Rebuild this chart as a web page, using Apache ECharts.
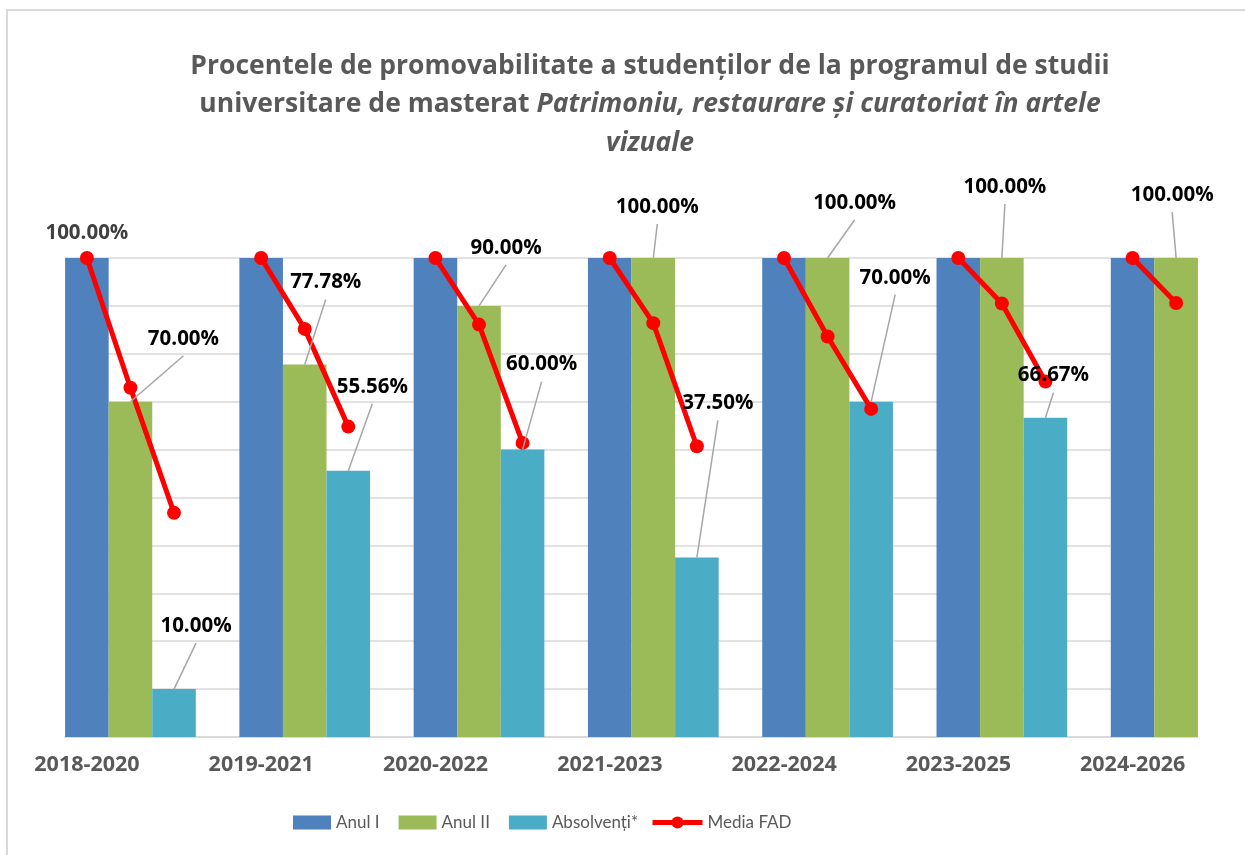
<!DOCTYPE html>
<html>
<head>
<meta charset="utf-8">
<title>Procentele de promovabilitate</title>
<script src="https://cdn.jsdelivr.net/npm/echarts@6/dist/echarts.min.js"></script>
<style>
  html, body { margin: 0; padding: 0; background: #fff; }
  #chart { width: 1245px; height: 855px; }
</style>
</head>
<body>
<div id="chart"></div>
<script>
  // categories (promotion cohorts)
  var categories = ["2018-2020", "2019-2021", "2020-2022", "2021-2023", "2022-2024", "2023-2025", "2024-2026"];

  // bar values (share of students)
  var anulI = [1, 1, 1, 1, 1, 1, 1];
  var anulII = [0.70, 0.7778, 0.90, 1, 1, 1, 1];
  var absolventi = [0.10, 0.5556, 0.60, 0.375, 0.70, 0.6667, "-"];

  // Media FAD, read at Anul I / Anul II / Absolventi in every group
  var fadAnulI = [1, 1, 1, 1, 1, 1, 1];
  var fadAnulII = [0.729, 0.852, 0.861, 0.864, 0.836, 0.905, 0.906];
  var fadAbsolventi = [0.468, 0.648, 0.614, 0.607, 0.685, 0.742, "-"];

  // y axis ticks
  var yMin = 0, yMax = 1, yStep = 0.1;

  // label placement, [dx, dy] from the top of the bar (layout only)
  var offAnulI = [[0, -25], null, null, null, null, null, null];
  var offAnulII = [[53, -63], [21, -82], [27, -58], [4, -51], [27, -55], [3, -71], [-4, -63]];
  var offAbs = [[22, -63], [24, -84], [19, -85], [21, -154], [24, -124], [8, -42], null];

  // line goes on a helper axis with 4 slots per group (slot 0 empty)
  var slotNames = [];
  var fadSlots = [];
  for (var i = 0; i < categories.length; i++) {
    fadSlots.push("-", fadAnulI[i], fadAnulII[i], fadAbsolventi[i]);
  }
  fadSlots.push("-");
  for (var k = 0; k < fadSlots.length; k++) slotNames.push(String(k));

  var FONT = "'Open Sans', Lato, sans-serif";
  var LEGEND_FONT = "Lato, sans-serif";
  var GRAY = "#595959";

  function pct(v) {
    return (v * 100).toFixed(2) + "%";
  }

  // data labels with grey leader lines
  function labelSeries(values, slot, offsets, color, guide) {
    return {
      type: "custom",
      name: "lbl" + slot,
      xAxisIndex: 1,
      yAxisIndex: 1,
      z: 10,
      silent: true,
      data: values.map(function (v, i) { return [i, v]; }),
      renderItem: function (params, api) {
        var off = offsets[params.dataIndex];
        var v = api.value(1);
        if (!off || isNaN(v)) return null;
        var band = api.size([1, 0])[0];
        var c = api.coord([api.value(0), v]);
        var x = c[0] + slot * band * 0.25;
        var y = c[1];
        var lx = x + off[0], ly = y + off[1];
        var children = [];
        if (guide) {
          children.push({
            type: "line",
            shape: { x1: lx, y1: ly + 17, x2: x, y2: y },
            style: { stroke: "#a6a6a6", lineWidth: 1.5 }
          });
        }
        children.push({
          type: "text",
          x: lx,
          y: ly,
          style: {
            text: pct(v),
            align: "center",
            verticalAlign: "middle",
            fill: color,
            font: "bold 20.5px " + FONT
          }
        });
        return { type: "group", children: children };
      }
    };
  }

  var chart = echarts.init(document.getElementById("chart"));

  var option = {
    backgroundColor: "#fff",
    animation: false,
    title: {
      text: "Procentele de promovabilitate a studenților de la programul de studii\n" +
        "universitare de masterat {i|Patrimoniu, restaurare și curatoriat în artele}\n{i|vizuale}",
      left: 650,
      textAlign: "center",
      top: 47,
      padding: 0,
      textStyle: {
        color: GRAY,
        fontFamily: FONT,
        fontSize: 26.5,
        fontWeight: "bold",
        lineHeight: 38.5,
        rich: {
          i: { color: GRAY, fontFamily: FONT, fontSize: 26.5, fontWeight: "bold", fontStyle: "italic", lineHeight: 38.5 }
        }
      }
    },
    legend: [
      {
        data: ["Anul I", "Anul II", "Absolvenți*"],
        left: 293,
        top: 814,
        padding: 0,
        icon: "rect",
        itemWidth: 38,
        itemHeight: 14,
        itemGap: 19,
        textStyle: { color: GRAY, fontFamily: LEGEND_FONT, fontSize: 17 }
      },
      {
        data: ["Media FAD"],
        left: 650,
        top: 814,
        padding: 0,
        itemWidth: 50,
        itemHeight: 15,
        lineStyle: { width: 5, color: "#FF0000" },
        textStyle: { color: GRAY, fontFamily: LEGEND_FONT, fontSize: 17 }
      }
    ],
    grid: [
      // gridlines only
      { left: 65, width: 1132, top: 258, height: 479, containLabel: false, outerBoundsMode: "none" },
      // bars, line and labels
      { left: 43.3, width: 1220, top: 258, height: 479, containLabel: false, outerBoundsMode: "none" }
    ],
    xAxis: [
      {
        type: "value", gridIndex: 0, min: 0, max: 1,
        axisLine: { show: true, lineStyle: { color: "#d9d9d9", width: 2 } },
        axisTick: { show: false }, axisLabel: { show: false }, splitLine: { show: false }
      },
      {
        type: "category", gridIndex: 1, data: categories,
        axisLine: { show: false }, axisTick: { show: false }, splitLine: { show: false },
        axisLabel: {
          interval: 0,
          margin: 17,
          color: GRAY,
          fontFamily: FONT,
          fontSize: 21.5,
          fontWeight: "bold",
          padding: [0, 87, 0, 0]
        }
      },
      {
        type: "category", gridIndex: 1, data: slotNames, boundaryGap: false, show: false
      }
    ],
    yAxis: [
      {
        type: "value", gridIndex: 0, min: yMin, max: yMax, interval: yStep,
        axisLine: { show: false }, axisTick: { show: false }, axisLabel: { show: false },
        splitLine: { show: true, lineStyle: { color: "#d9d9d9", width: 1.5 } }
      },
      {
        type: "value", gridIndex: 1, min: yMin, max: yMax, show: false, splitLine: { show: false }
      }
    ],
    series: [
      {
        name: "Anul I", type: "bar", xAxisIndex: 1, yAxisIndex: 1,
        data: anulI, barGap: "0%", barCategoryGap: "25%",
        itemStyle: { color: "#4F81BD" }
      },
      {
        name: "Anul II", type: "bar", xAxisIndex: 1, yAxisIndex: 1,
        data: anulII, barGap: "0%", barCategoryGap: "25%",
        itemStyle: { color: "#9BBB59" }
      },
      {
        name: "Absolvenți*", type: "bar", xAxisIndex: 1, yAxisIndex: 1,
        data: absolventi, barGap: "0%", barCategoryGap: "25%",
        itemStyle: { color: "#4BACC6" }
      },
      {
        name: "Media FAD", type: "line", xAxisIndex: 2, yAxisIndex: 1,
        data: fadSlots, connectNulls: false, z: 5,
        symbol: "circle", symbolSize: 14,
        itemStyle: { color: "#FF0000" },
        lineStyle: { color: "#FF0000", width: 5 }
      },
      labelSeries(anulI, -1, offAnulI, "#404040", false),
      labelSeries(anulII, 0, offAnulII, "#000000", true),
      labelSeries(absolventi, 1, offAbs, "#000000", true)
    ],
    graphic: [
      {
        type: "polyline",
        silent: true,
        shape: { points: [[7, 855], [7, 10], [1245, 10]] },
        style: { stroke: "#d9d9d9", lineWidth: 2, fill: null }
      }
    ]
  };

  chart.setOption(option);
</script>
</body>
</html>
